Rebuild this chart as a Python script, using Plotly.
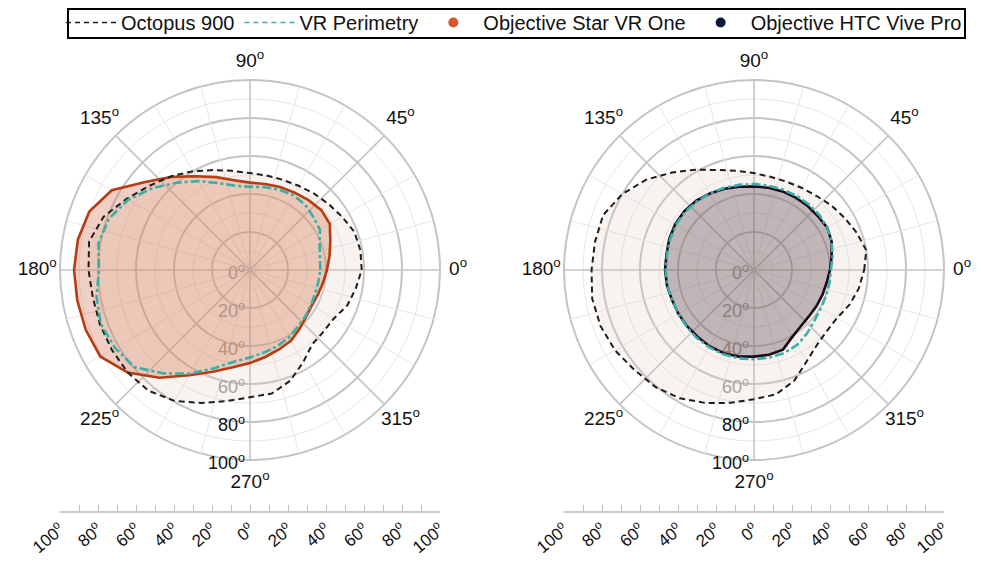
import numpy as np
import plotly.graph_objects as go

# ---------------- data ----------------
THETA = list(range(0, 360, 10))

# left panel
oct_left = [58.8, 59, 58.5, 56, 54, 52.5, 51.2, 50.5, 50.5, 51, 53, 56, 60, 64.5, 69, 75, 82, 86,
            85, 84, 84, 84, 84, 83, 79.5, 74.5, 70, 67, 66, 62, 56, 51, 50.5, 51, 54.5, 56.5]
vr_left = [37, 37.4, 39, 42.5, 43.5, 45, 45.5, 45, 44.3, 43.8, 45, 48.7, 54, 60, 67, 74, 79, 81,
           79.5, 82, 83.5, 82, 79.5, 71, 63, 55, 49, 46, 44, 42.5, 41, 39, 38, 37, 36.5, 36.5]
star_left = [40.5, 42.5, 45, 48.5, 49, 48, 47, 46.5, 46, 46, 48, 52, 57, 64, 72, 84, 90, 92,
             92.6, 92.3, 92, 91, 84, 74, 64, 57, 52, 49, 46.5, 44.5, 43, 40.5, 38.5, 37.5, 38, 39]

# right panel
oct_right = [58, 60, 57.5, 55, 53, 51, 50, 49.5, 49.8, 51, 53, 56, 61, 67, 74, 80, 84.5, 85,
             85.5, 86.5, 86, 84.5, 82, 80.5, 78, 74.5, 71, 68, 66.5, 62, 55.5, 51.5, 50, 50.5, 53.5, 56]
vr_right = [40.5, 42, 43.5, 44.5, 45, 45, 45, 45, 45, 45.3, 45.5, 46, 46.5, 47, 47.5, 47.5, 47, 46.5,
            46.5, 46.3, 46, 46, 46.3, 46.8, 47, 47.2, 47.2, 47, 46.8, 46.5, 45.5, 43.5, 41.5, 40.5, 40.3, 40.3]
htc_right = [40, 41.5, 43.5, 44.5, 44, 44, 44, 44, 44, 44, 44.5, 45.5, 46.5, 47.5, 48, 48, 47.5, 46.8,
             46.8, 46.5, 46, 46, 46, 46, 46.5, 46.6, 46.3, 45.6, 45.3, 44.6, 40.5, 38.5, 37.8, 38, 38.3, 38.8]

ANG_TICKS = [0, 45, 90, 135, 180, 225, 270, 315]
MINOR_SPOKES = [15, 30, 60, 75, 105, 120, 150, 165]
RAD_LABELS = [0, 20, 40, 60, 80, 100]
RAD_MAJOR = [20, 40, 60, 80, 100]
RAD_MINOR = [10, 30, 50, 70, 90]
LIN_TICKS = list(range(-100, 101, 10))
R_MAX = 100      # outer field limit
R_AXIS = 114     # radial axis extent (leaves room for angle labels)
R_ANG_LABEL = [109.5, 112, 109.5, 112, 112, 112, 112, 112]  # label radius per angle tick
R_LABEL_SHIFT = 2.5  # radial labels sit just below their ring

# ---------------- style ----------------
FONT = "Liberation Sans, Arial, sans-serif"
C_OCT = "#1e1e1e"
C_VR = "#3aaea8"
C_STAR = "#b63c14"
C_STAR_DOT = "#d9582b"
C_HTC = "#1a0a1c"
C_HTC_DOT = "#0b1a3a"
F_OCT = "rgba(222,200,178,0.22)"
F_STAR = "rgba(208,110,72,0.32)"
F_HTC = "rgba(70,40,55,0.30)"
GRID_MINOR = "#e6e6e6"
GRID_MAJOR = "#c4c4c4"

OFF = 8  # page body margin of the html page (window px -> figure px)
W, H = 981 - 2 * OFF, 564 - 2 * OFF
R_PX = 190  # pixel radius of the 100 deg ring


def fx(px):
    return (px - OFF) / W


def fy(py):
    return 1 - (py - OFF) / H


def closed(r, t):
    return list(r) + [r[0]], list(t) + [t[0]]


fig = go.Figure()


def add_panel(sub, octv, objv, vrv, fobj, cobj):
    circ = list(np.arange(0, 361, 2))
    for rv in RAD_MINOR:
        fig.add_trace(go.Scatterpolar(r=[rv] * len(circ), theta=circ, mode="lines",
                                      line=dict(color=GRID_MINOR, width=1), hoverinfo="skip",
                                      showlegend=False, subplot=sub))
    for a in MINOR_SPOKES:
        fig.add_trace(go.Scatterpolar(r=[R_MAX, 0, R_MAX], theta=[a, a, a + 180], mode="lines",
                                      line=dict(color=GRID_MINOR, width=1), hoverinfo="skip",
                                      showlegend=False, subplot=sub))
    for a in ANG_TICKS[:4]:
        fig.add_trace(go.Scatterpolar(r=[R_MAX, 0, R_MAX], theta=[a, a, a + 180], mode="lines",
                                      line=dict(color=GRID_MAJOR, width=1.6), hoverinfo="skip",
                                      showlegend=False, subplot=sub))
    # radial tick labels
    fig.add_trace(go.Scatterpolar(
        r=[v + R_LABEL_SHIFT for v in RAD_LABELS], theta=[270] * len(RAD_LABELS), mode="text",
        text=[f"{v}<sup>o</sup>\u00a0" for v in RAD_LABELS], textposition="middle left",
        textfont=dict(size=18, family=FONT,
                      color=["#9a9a9a"] * 4 + ["#111111"] * 2),
        cliponaxis=False, hoverinfo="skip", showlegend=False, subplot=sub))
    # angular tick labels
    fig.add_trace(go.Scatterpolar(
        r=R_ANG_LABEL, theta=ANG_TICKS, mode="text",
        text=[f"{a}<sup>o</sup>" for a in ANG_TICKS], textposition="middle center",
        textfont=dict(size=19, family=FONT, color="#111111"),
        cliponaxis=False, hoverinfo="skip", showlegend=False, subplot=sub))
    r, t = closed(octv, THETA)
    fig.add_trace(go.Scatterpolar(r=r, theta=t, mode="lines", fill="toself", fillcolor=F_OCT,
                                  line=dict(width=0, color="rgba(0,0,0,0)"),
                                  hoverinfo="skip", showlegend=False, subplot=sub))
    r, t = closed(objv, THETA)
    fig.add_trace(go.Scatterpolar(r=r, theta=t, mode="lines", fill="toself", fillcolor=fobj,
                                  line=dict(width=2.6, color=cobj),
                                  showlegend=False, subplot=sub))
    r, t = closed(octv, THETA)
    fig.add_trace(go.Scatterpolar(r=r, theta=t, mode="lines",
                                  line=dict(width=2, color=C_OCT, dash="6px,4px"),
                                  showlegend=False, subplot=sub))
    r, t = closed(vrv, THETA)
    fig.add_trace(go.Scatterpolar(r=r, theta=t, mode="lines",
                                  line=dict(width=2.6, color=C_VR, dash="9px,3px,3px,3px"),
                                  showlegend=False, subplot=sub))


add_panel("polar", oct_left, star_left, vr_left, F_STAR, C_STAR)
add_panel("polar2", oct_right, htc_right, vr_right, F_HTC, C_HTC)

# legend proxies
fig.add_trace(go.Scatterpolar(r=[None], theta=[None], mode="lines", name="Octopus 900",
                              line=dict(color=C_OCT, width=1.5, dash="5px,4px"), subplot="polar"))
fig.add_trace(go.Scatterpolar(r=[None], theta=[None], mode="lines", name="VR Perimetry",
                              line=dict(color=C_VR, width=1.5, dash="5px,4px"), subplot="polar"))
fig.add_trace(go.Scatterpolar(r=[None], theta=[None], mode="markers", name="Objective Star VR One",
                              marker=dict(color=C_STAR_DOT, size=10), subplot="polar"))
fig.add_trace(go.Scatterpolar(r=[None], theta=[None], mode="markers", name="Objective HTC Vive Pro",
                              marker=dict(color=C_HTC_DOT, size=10), subplot="polar"))

# linear scale bars
fig.add_trace(go.Scatter(x=[None], y=[None], xaxis="x", yaxis="y", showlegend=False,
                         hoverinfo="skip"))
fig.add_trace(go.Scatter(x=[None], y=[None], xaxis="x2", yaxis="y2", showlegend=False,
                         hoverinfo="skip"))


def polar_layout(cx, cy):
    half = R_PX * R_AXIS / R_MAX
    return dict(
        domain=dict(x=[fx(cx - half), fx(cx + half)], y=[fy(cy + half), fy(cy - half)]),
        bgcolor="rgba(0,0,0,0)",
        radialaxis=dict(range=[0, R_AXIS], tickvals=RAD_MAJOR, showticklabels=False, ticks="",
                        showline=False, gridcolor=GRID_MAJOR, gridwidth=1.6),
        angularaxis=dict(showticklabels=False, ticks="", showline=False, showgrid=False,
                         direction="counterclockwise", rotation=0),
    )


def lin_axis(cx, anchor):
    return dict(domain=[fx(cx - R_PX), fx(cx + R_PX)], range=[-100, 100], anchor=anchor,
                tickmode="array", tickvals=LIN_TICKS, automargin=False,
                ticktext=[f"{abs(v)}<sup>o</sup>" if v % 20 == 0 else "" for v in LIN_TICKS],
                ticks="inside", ticklen=6, tickwidth=1.3, tickcolor="#bdbdbd",
                showline=True, linecolor="#cccccc", linewidth=2, showgrid=False, zeroline=False,
                tickangle=-40, tickfont=dict(size=17, family=FONT, color="#111111"),
                fixedrange=True)


y_dom = [fy(511), fy(501)]
fig.update_layout(
    width=W, height=H, margin=dict(l=0, r=0, t=0, b=0, autoexpand=False),
    paper_bgcolor="white", plot_bgcolor="rgba(0,0,0,0)",
    font=dict(family=FONT, color="#111111"),
    polar=polar_layout(250, 270), polar2=polar_layout(754, 270),
    xaxis=lin_axis(250, "y"), xaxis2=lin_axis(754, "y2"),
    yaxis=dict(domain=y_dom, visible=False, range=[0, 1], fixedrange=True, anchor="x",
               automargin=False),
    yaxis2=dict(domain=y_dom, visible=False, range=[0, 1], fixedrange=True, anchor="x2",
                automargin=False),
    legend=dict(orientation="h", x=fx(61), xanchor="left", y=fy(3), yanchor="top",
                borderwidth=0, font=dict(size=20, family=FONT),
                itemwidth=50, tracegroupgap=0, bgcolor="rgba(0,0,0,0)"),
    shapes=[dict(type="rect", xref="paper", yref="paper",
                 x0=fx(68), x1=fx(965), y0=fy(38), y1=fy(9),
                 line=dict(color="#000000", width=2), fillcolor="rgba(0,0,0,0)", layer="below")],
    showlegend=True,
)

fig.write_html("out.html")
